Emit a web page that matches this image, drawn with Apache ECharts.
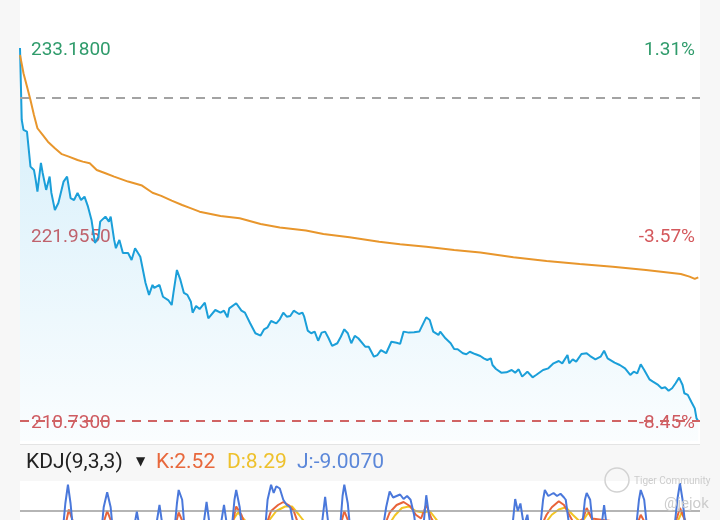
<!DOCTYPE html>
<html><head><meta charset="utf-8">
<script src="https://cdn.jsdelivr.net/npm/echarts@6/dist/echarts.min.js"></script>
<style>html,body{margin:0;padding:0;background:#f7f7f7}#c{width:720px;height:520px}</style>
</head><body><div id="c"></div><script>
// ---- price panel data (minute of session, price) ----
const priceMinutes = [0,1,2,4,5,6,8,9,10,12,13,15,17,18,20,22,23,25,27,29,31,33,35,37,39,41,43,45,46,49,51,52,54,55,57,59,62,64,66,69,72,74,76,77,80,82,85,87,88,90,92,94,96,98,99,101,103,106,108,109,112,115,117,119,120,124,127,129,132,135,138,140,142,144,147,149,151,153,155,157,160,162,163,165,167,169,171,173,175,177,179,182,184,186,188,190,192,194,198,200,203,205,207,210,213,216,218,220,223,226,229,233,235,237,240,241,244,247,249,251,254,256,258,261,264,266,268,270,271,273,276,279,282,284,286,288,291,292,294,296,300,303,306,309,311,314,315,317,319,322,325,327,330,333,335,337,341,344,347,350,352,354,356,358,361,363,366,368,370,372,374,376,378,380,381,383,385,387,388,389];
const prices = [233.18,228.85,228.25,228.15,228.07,226.04,225.84,225.24,224.53,226.26,225.66,224.64,225.44,224.46,223.43,223.85,223.73,225.14,225.44,224.15,224.03,224.46,224.03,224.23,223.63,222.83,221.45,221.82,222.73,223.03,222.73,223.03,221.63,221.13,221.63,220.84,220.84,220.42,221.13,220.62,219.04,218.32,218.92,218.74,218.92,218.21,218.01,217.71,218.44,219.82,219.22,218.44,218.32,217.91,217.25,217.65,217.47,217.85,216.91,216.81,217.41,217.25,217.37,216.97,217.51,217.82,217.37,217.25,216.61,216.01,215.87,216.25,216.37,216.75,216.61,216.85,217.25,217.01,217.05,217.37,217.17,217.25,217.01,216.17,216.01,216.11,215.56,216.05,216.11,215.71,215.25,215.41,215.80,216.25,216.01,215.41,215.85,215.71,215.20,215.20,214.60,214.70,215.00,214.81,215.50,215.44,215.37,216.11,216.05,216.07,216.11,216.97,216.81,216.11,215.91,216.11,215.71,215.41,215.06,215.05,214.81,214.75,214.90,214.76,214.64,214.50,214.40,214.50,214.10,213.86,213.64,213.66,213.80,213.64,213.84,213.40,213.70,213.76,213.36,213.50,213.80,213.90,214.20,214.34,214.20,214.70,214.20,214.44,214.30,214.76,214.81,214.64,214.44,214.60,214.96,214.50,214.24,214.10,213.90,213.50,213.70,213.60,214.14,213.80,213.24,213.10,212.90,212.70,212.76,212.55,212.70,213.00,213.34,212.90,212.40,212.30,211.89,211.49,210.89,210.73];
const avgMinutes = [0,2,4,6,8,10,13,16,20,24,28,33,36,40,44,49,54,62,70,76,81,87,93,97,103,115,126,138,149,164,174,189,206,218,233,249,264,283,302,321,340,359,379,384,387,389];
const avgPrices = [232.76,231.66,230.86,230.05,229.15,228.35,227.95,227.54,227.15,226.79,226.64,226.44,226.34,226.24,225.84,225.64,225.44,225.14,224.90,224.47,224.28,223.99,223.73,223.57,223.33,223.07,222.93,222.59,222.37,222.19,221.99,221.79,221.52,221.37,221.22,221.02,220.87,220.58,220.36,220.18,220.02,219.82,219.58,219.42,219.28,219.38];
const prevClose = 230.17;
const priceHigh = 233.18;
const priceLow = 210.73;
const levelValues = [233.18, 221.955, 210.73];
const levelPriceLabels = ['233.1800','221.9550','210.7300'];
const levelPctLabels = ['1.31%','-3.57%','-8.45%'];

// ---- KDJ panel data (minute, value) ----
const jPoints = [[0,50],[24,40],[26,90],[27.5,115],[29,90],[31,40],[46,35],[48,85],[50,105],[52,85],[54,35],[64,40],[67,79],[70,40],[77,45],[80,88],[83,40],[88,40],[90,90],[91,108],[93,95],[95,40],[104,40],[107,92],[110,40],[114,45],[117,88],[120,40],[121,45],[123,95],[124,108],[126,85],[128,40],[140,40],[142,95],[144,115],[145.5,104],[147,113],[149,110],[151,95],[153,88],[155,85],[157,60],[160,30],[172,40],[175,99],[178,40],[183,40],[185,100],[186,115],[188,90],[190,40],[207,40],[210,85],[212,106],[214,98],[216,100],[218,102],[220,96],[222,100],[224,95],[226,75],[228,40],[231,50],[233,101],[236,50],[260,30],[282,50],[284,96],[285.5,80],[287,90],[289,60],[291,75],[293,40],[298,50],[300,95],[301,108],[303,100],[306,104],[308,100],[310,103],[312,98],[313,95],[315,60],[322,50],[324,95],[325,104],[327,95],[329,50],[333,50],[335,88],[337,50],[353,50],[355,95],[356,108],[358,95],[360,50],[375,50],[377,95],[378.5,117],[380,95],[382,50],[386,10],[389,-9.007]];
const kPoints = [[0,50],[26,60],[28,82],[31,62],[48,65],[50,80],[53,62],[89,60],[91,78],[94,62],[122,65],[124,86],[127,75],[130,55],[141,60],[144,80],[148,88],[151,92],[154,88],[157,80],[160,60],[184,62],[186,80],[189,62],[209,60],[212,78],[216,88],[220,92],[224,86],[227,75],[230,70],[233,88],[236,70],[240,55],[299,60],[302,75],[305,85],[309,93],[312,88],[315,75],[318,62],[323,70],[325,84],[328,70],[354,62],[356,75],[359,62],[376,65],[378.5,84],[381,70],[385,30],[389,2.52]];
const dPoints = [[0,50],[120,60],[125,78],[130,65],[142,65],[147,80],[152,86],[156,86],[160,75],[165,60],[211,60],[215,74],[219,84],[223,86],[227,80],[231,78],[235,80],[240,65],[300,60],[305,75],[309,82],[313,85],[317,75],[322,64],[326,78],[330,62],[376,60],[379.5,78],[383,60],[387,20],[389,8.29]];
const kdjLevel = 80;
const kdjVisibleMin = 68, kdjVisibleMax = 120;
const kdjTitle = 'KDJ(9,3,3)';
const kLabel = 'K:2.52', dLabel = 'D:8.29', jLabel = 'J:-9.0070';

const FONT = 'Roboto, "Noto Sans", "DejaVu Sans", sans-serif';
const GREEN = '#2f9b6b', RED = '#d4585c';
const pxPerUnit = 373 / (priceHigh - priceLow);
const yMin = priceHigh - 393 / pxPerUnit;

function levelIndex(v){ return levelValues.findIndex(x => Math.abs(x - v) < 1e-6); }

const chart = echarts.init(document.getElementById('c'));
chart.setOption({
  animation: false,
  backgroundColor: '#f7f7f7',
  graphic: [
    {type:'rect', z:-100, silent:true, shape:{x:20,y:0,width:680,height:444}, style:{fill:'#ffffff'}},
    {type:'rect', z:-100, silent:true, shape:{x:20,y:481,width:680,height:39}, style:{fill:'#ffffff'}},
    {type:'line', z:-90, silent:true, shape:{x1:20,y1:444.5,x2:700,y2:444.5}, style:{stroke:'#e4e4e4', lineWidth:1}},
    {type:'text', z:100, style:{text:kdjTitle, x:26, y:463, verticalAlign:'middle', font:'21px '+FONT, fill:'#222222'}},
    {type:'text', z:100, style:{text:'▼', x:136, y:462, verticalAlign:'middle', font:'12px "DejaVu Sans", sans-serif', fill:'#222222'}},
    {type:'text', z:100, style:{text:kLabel, x:156, y:463, verticalAlign:'middle', font:'21px '+FONT, fill:'#e8683c'}},
    {type:'text', z:100, style:{text:dLabel, x:227, y:463, verticalAlign:'middle', font:'21px '+FONT, fill:'#eec12c'}},
    {type:'text', z:100, style:{text:jLabel, x:297, y:463, verticalAlign:'middle', font:'21px '+FONT, fill:'#5b87d9'}},
    {type:'circle', z:100, silent:true, shape:{cx:617,cy:480,r:12}, style:{fill:'none', stroke:'#d2d2d2', lineWidth:1.5}},
    {type:'text', z:100, style:{text:'Tiger Community', x:634, y:481, verticalAlign:'middle', font:'10px '+FONT, fill:'#cccccc'}},
    {type:'text', z:100, style:{text:'@jejok', x:664, y:504, verticalAlign:'middle', font:'15px '+FONT, fill:'#cccccc'}}
  ],
  grid: [
    {left:20, right:20, top:48, height:393},
    {left:20, right:20, top:481, height:39}
  ],
  xAxis: [
    {type:'value', gridIndex:0, min:0, max:390, show:false},
    {type:'value', gridIndex:1, min:0, max:390, show:false}
  ],
  yAxis: [
    {type:'value', gridIndex:0, min:yMin, max:priceHigh, position:'left',
     axisLine:{show:false}, axisTick:{show:false}, splitLine:{show:false},
     axisLabel:{inside:true, margin:11, customValues:levelValues, fontSize:19, fontFamily:FONT,
       verticalAlign:'top', padding:[-7,0,0,0],
       formatter:v => levelPriceLabels[levelIndex(v)] || '',
       color:v => (v > prevClose ? GREEN : RED)}},
    {type:'value', gridIndex:0, min:yMin, max:priceHigh, position:'right',
     axisLine:{show:false}, axisTick:{show:false}, splitLine:{show:false},
     axisLabel:{inside:true, margin:5, customValues:levelValues, fontSize:19, fontFamily:FONT,
       verticalAlign:'top', padding:[-7,0,0,0],
       formatter:v => levelPctLabels[levelIndex(v)] || '',
       color:v => (v > prevClose ? GREEN : RED)}},
    {type:'value', gridIndex:1, min:kdjVisibleMin, max:kdjVisibleMax, show:false}
  ],
  series: [
    {type:'line', xAxisIndex:0, yAxisIndex:0, showSymbol:false, z:3,
     data: priceMinutes.map((m,i)=>[m, prices[i]]),
     lineStyle:{color:'#1b9fd9', width:2},
     areaStyle:{origin:'start', color:new echarts.graphic.LinearGradient(0,0,0,1,[
       {offset:0,color:'rgba(40,170,230,0.30)'},{offset:1,color:'rgba(40,170,230,0.03)'}])},
     markLine:{silent:true, symbol:'none', label:{show:false}, animation:false,
       data:[
         {yAxis:prevClose, lineStyle:{color:'#a3a3a3', type:[9,7], width:2}},
         {yAxis:priceLow, lineStyle:{color:'#d06464', type:[9,7], width:2}}
       ]}},
    {type:'line', xAxisIndex:0, yAxisIndex:0, showSymbol:false, z:4,
     data: avgMinutes.map((m,i)=>[m, avgPrices[i]]),
     lineStyle:{color:'#e8962c', width:2}},
    {type:'line', xAxisIndex:1, yAxisIndex:2, showSymbol:false, z:3, clip:true,
     data: dPoints, lineStyle:{color:'#f2c522', width:2},
     markLine:{silent:true, symbol:'none', label:{show:false}, animation:false,
       data:[{yAxis:kdjLevel, lineStyle:{color:'#9c9c9c', type:'solid', width:1.5}}]}},
    {type:'line', xAxisIndex:1, yAxisIndex:2, showSymbol:false, z:4, clip:true,
     data: kPoints, lineStyle:{color:'#e8643a', width:2}},
    {type:'line', xAxisIndex:1, yAxisIndex:2, showSymbol:false, z:5, clip:true,
     data: jPoints, lineStyle:{color:'#4a78db', width:2}}
  ]
});
</script></body></html>
